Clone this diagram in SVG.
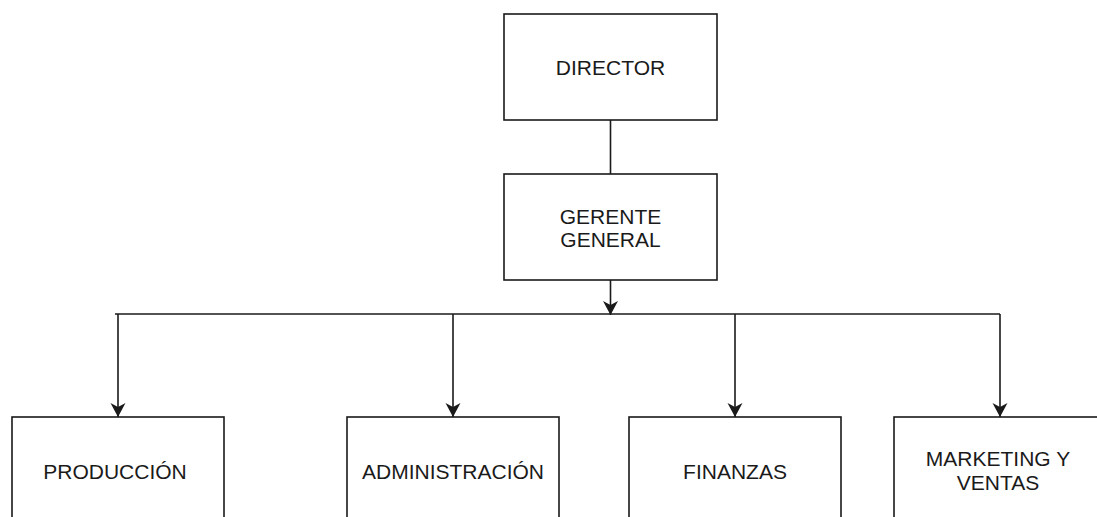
<svg xmlns="http://www.w3.org/2000/svg" width="1097" height="517" viewBox="0 0 1097 517">
<style>
.box{fill:#fff;stroke:#1a1a1a;stroke-width:1.6}
.ln{fill:none;stroke:#1a1a1a;stroke-width:1.6}
.t{font-family:"Liberation Sans",Arial,sans-serif;font-size:21px;fill:#1a1a1a;text-anchor:middle}
</style>
<defs>
<marker id="arr" markerUnits="userSpaceOnUse" markerWidth="20" markerHeight="20" viewBox="-16 -10 20 20" refX="0" refY="0" orient="auto" overflow="visible">
<path d="M0,0 L-14,-7.5 L-10,0 L-14,7.5 Z" fill="#1a1a1a"/>
</marker>
</defs>
<rect width="1097" height="517" fill="#fff"/>
<g id="connectors">
<line class="ln" x1="610.5" y1="120" x2="610.5" y2="174"/>
<line class="ln" x1="610.5" y1="280" x2="610.5" y2="315" marker-end="url(#arr)"/>
<line class="ln" x1="115" y1="314" x2="1000" y2="314"/>
<line class="ln" x1="118" y1="314" x2="118" y2="417" marker-end="url(#arr)"/>
<line class="ln" x1="453" y1="314" x2="453" y2="417" marker-end="url(#arr)"/>
<line class="ln" x1="735" y1="314" x2="735" y2="417" marker-end="url(#arr)"/>
<line class="ln" x1="1000" y1="314" x2="1000" y2="417" marker-end="url(#arr)"/>
</g>
<g id="director">
<rect class="box" x="504" y="14" width="213" height="106"/>
<text class="t" x="610.5" y="75">DIRECTOR</text>
</g>
<g id="gerente">
<rect class="box" x="504" y="174" width="213" height="106"/>
<text class="t" x="610.5" y="224">GERENTE</text>
<text class="t" x="610.5" y="247">GENERAL</text>
</g>
<g id="produccion">
<rect class="box" x="12" y="417" width="212" height="106"/>
<text class="t" x="115" y="479">PRODUCCIÓN</text>
</g>
<g id="administracion">
<rect class="box" x="347" y="417" width="212" height="106"/>
<text class="t" x="453" y="479">ADMINISTRACIÓN</text>
</g>
<g id="finanzas">
<rect class="box" x="629" y="417" width="212" height="106"/>
<text class="t" x="735" y="479">FINANZAS</text>
</g>
<g id="marketing">
<rect class="box" x="894" y="417" width="212" height="106"/>
<text class="t" x="998" y="466">MARKETING Y</text>
<text class="t" x="998" y="490">VENTAS</text>
</g>
</svg>
